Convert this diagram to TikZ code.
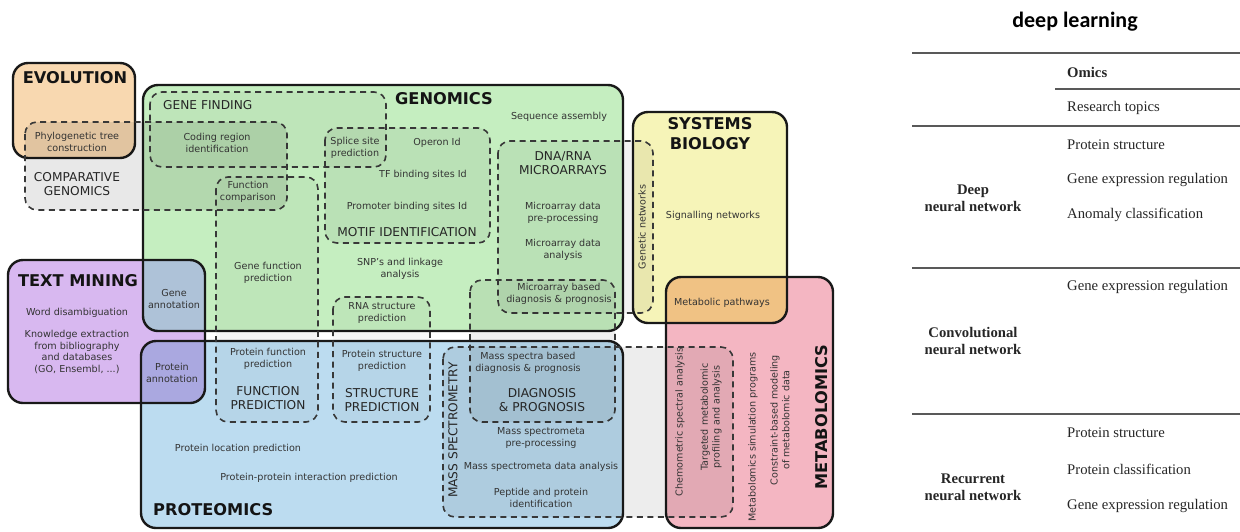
\documentclass[tikz,border=0pt]{standalone}
\usepackage{fontspec}
\setmainfont{DejaVu Sans}
\newfontfamily\tabfont{Liberation Serif}
\newfontfamily\headfont{Carlito}
\definecolor{evoC}{HTML}{F8D8B0}
\definecolor{genC}{HTML}{C5EEC0}
\definecolor{sysC}{HTML}{F6F4B8}
\definecolor{txtC}{HTML}{D8B8F0}
\definecolor{proC}{HTML}{BCDCF0}
\definecolor{metC}{HTML}{F4B6C2}
\definecolor{geneAnnC}{HTML}{AEC2D8}
\definecolor{protAnnC}{HTML}{AAA8E0}
\definecolor{metPathC}{HTML}{F0C284}
\begin{document}
\begin{tikzpicture}[x=1pt,y=-1pt,
  solidbox/.style={draw=black!90, line width=2.4pt, rounded corners=15pt},
  dashbox/.style={draw=black!78, line width=1.6pt, dash pattern=on 6pt off 4.5pt,
    rounded corners=12pt, fill=black, fill opacity=#1},
  dashbox/.default=0.05,
  lbl/.style={font=\fontsize{9.6}{11.8}\selectfont, text=black!80, align=center, inner sep=0pt},
  sub/.style={font=\fontsize{12.2}{14.5}\selectfont, text=black!85, align=center, inner sep=0pt},
  ttl/.style={font=\fontsize{16.2}{20}\selectfont\bfseries, text=black!92, align=center, inner sep=0pt},
  cell/.style={font=\tabfont\fontsize{14.7}{17}\selectfont, anchor=west, inner sep=0pt, text=black!85},
  rowhead/.style={font=\tabfont\bfseries\fontsize{14.7}{17}\selectfont, align=center, inner sep=0pt, text=black!85},
  rule/.style={draw=black!65, line width=1.3pt}]
\useasboundingbox (0,0) rectangle (1240,531);

% ---------- fields: fills ----------
\def\evo{(13,63) rectangle (135,158)}
\def\gen{(143,85) rectangle (623,331)}
\def\sys{(633,112) rectangle (787,323)}
\def\txt{(8,260) rectangle (205,403)}
\def\pro{(141,341) rectangle (623,528)}
\def\met{(666,277) rectangle (833,528)}

\fill[evoC, rounded corners=15pt] \evo;
\fill[genC, rounded corners=15pt] \gen;
\fill[sysC, rounded corners=15pt] \sys;
\fill[txtC, rounded corners=15pt] \txt;
\fill[proC, rounded corners=15pt] \pro;
\fill[metC, rounded corners=15pt] \met;

% overlaps of the fields
\begin{scope}
  \clip[rounded corners=15pt] \txt; \clip[rounded corners=15pt] \gen;
  \fill[geneAnnC] (0,0) rectangle (900,531);
\end{scope}
\begin{scope}
  \clip[rounded corners=15pt] \txt; \clip[rounded corners=15pt] \pro;
  \fill[protAnnC] (0,0) rectangle (900,531);
\end{scope}
\begin{scope}
  \clip[rounded corners=15pt] \sys; \clip[rounded corners=15pt] \met;
  \fill[metPathC] (0,0) rectangle (900,531);
\end{scope}

% ---------- fields: outlines ----------
\draw[solidbox] \evo;
\draw[solidbox] \gen;
\draw[solidbox] \sys;
\draw[solidbox] \txt;
\draw[solidbox] \pro;
\draw[solidbox] \met;

% ---------- sub-topics (dashed) ----------
\path[dashbox=0.09] (25,122) rectangle (287,210);   % comparative genomics
\path[dashbox=0.035] (150,92) rectangle (386,167);  % gene finding
\path[dashbox=0.03] (216,177) rectangle (318,422);  % function prediction
\path[dashbox=0.05] (325,128) rectangle (490,243);  % motif identification
\path[dashbox=0.03] (333,297) rectangle (430,422);  % structure prediction
\path[dashbox=0.05] (498,141) rectangle (653,313);  % DNA/RNA microarrays
\path[dashbox=0.06] (470,280) rectangle (615,422);  % diagnosis & prognosis
\path[dashbox=0.07] (443,347) rectangle (733,517);  % mass spectrometry

% ---------- titles ----------
\node[ttl] (tEvo) at (75,78) {EVOLUTION};
\node[ttl] (tGen) at (444,99) {GENOMICS};
\node[ttl] (tSys) at (710,134) {SYSTEMS\\BIOLOGY};
\node[ttl] (tTxt) at (78,281) {TEXT MINING};
\node[ttl, anchor=west] (tPro) at (153,510) {PROTEOMICS};
\node[ttl, rotate=90] (tMet) at (822,417) {METABOLOMICS};

% ---------- sub-topic titles ----------
\node[sub] (sComp) at (77,184) {COMPARATIVE\\GENOMICS};
\node[sub, anchor=west] (sGF) at (163,105) {GENE FINDING};
\node[sub] (sMotif) at (407,232) {MOTIF IDENTIFICATION};
\node[sub] (sMicro) at (563,163) {DNA/RNA\\MICROARRAYS};
\node[sub] (sFunc) at (268,398) {FUNCTION\\PREDICTION};
\node[sub] (sStruct) at (382,400) {STRUCTURE\\PREDICTION};
\node[sub] (sDiag) at (542,400) {DIAGNOSIS\\\& PROGNOSIS};
\node[sub, rotate=90] (sMass) at (453,430) {MASS SPECTROMETRY};

% ---------- research topics ----------
\node[lbl] (lPhylo) at (77,142) {Phylogenetic tree\\construction};
\node[lbl] (lCoding) at (217,143) {Coding region\\identification};
\node[lbl] (lFcomp) at (248,192) {Function\\comparison};
\node[lbl] (lSeq) at (559,117) {Sequence assembly};
\node[lbl] (lSplice) at (355,148) {Splice site\\prediction};
\node[lbl] (lOperon) at (437,143) {Operon Id};
\node[lbl] (lTF) at (423,175) {TF binding sites Id};
\node[lbl] (lProm) at (407,207) {Promoter binding sites Id};
\node[lbl] (lMpre) at (563,213) {Microarray data\\pre-processing};
\node[lbl] (lMana) at (563,250) {Microarray data\\analysis};
\node[lbl] (lGfun) at (268,273) {Gene function\\prediction};
\node[lbl] (lSNP) at (400,269) {SNP's and linkage\\analysis};
\node[lbl] (lRNA) at (382,313) {RNA structure\\prediction};
\node[lbl] (lMdiag) at (559,294) {Microarray based\\diagnosis \& prognosis};
\node[lbl, rotate=90] (lGnet) at (642,227) {Genetic networks};
\node[lbl] (lSig) at (713,216) {Signalling networks};
\node[lbl] (lMpath) at (722,303) {Metabolic pathways};
\node[lbl] (lWord) at (77,313) {Word disambiguation};
\node[lbl] (lKnow) at (77,352) {Knowledge extraction\\from bibliography\\and databases\\(GO, Ensembl, ...)};
\node[lbl] (lGann) at (174,299) {Gene\\annotation};
\node[lbl] (lPann) at (172,373) {Protein\\annotation};
\node[lbl] (lPfun) at (268,359) {Protein function\\prediction};
\node[lbl] (lPstr) at (382,361) {Protein structure\\prediction};
\node[lbl] (lMSdiag) at (528,363) {Mass spectra based\\diagnosis \& prognosis};
\node[lbl] (lMSpre) at (541,438) {Mass spectrometa\\pre-processing};
\node[lbl] (lMSana) at (541,467) {Mass spectrometa data analysis};
\node[lbl] (lPep) at (541,498) {Peptide and protein\\identification};
\node[lbl] (lPloc) at (238,449) {Protein location prediction};
\node[lbl] (lPPI) at (309,478) {Protein-protein interaction prediction};
\node[lbl, rotate=90] (lChem) at (680,422) {Chemometric spectral analysis};
\node[lbl, rotate=90] (lTarg) at (711,417) {Targeted metabolomic\\profiling and analysis};
\node[lbl, rotate=90] (lSim) at (753,437) {Metabolomics simulation programs};
\node[lbl, rotate=90] (lCons) at (780,420) {Constraint-based modeling\\of metabolomic data};

% ---------- table: deep learning ----------
\node[font=\headfont\bfseries\fontsize{22}{26}\selectfont, inner sep=0pt] (dl) at (1075,22) {deep learning};

\draw[rule] (912,53) -- (1240,53);
\draw[rule] (1055,89) -- (1240,89);
\draw[rule] (912,126) -- (1240,126);
\draw[rule] (912,268) -- (1240,268);
\draw[rule] (912,414) -- (1240,414);

\node[cell, font=\tabfont\bfseries\fontsize{14.7}{17}\selectfont] (cOmics) at (1067,72) {Omics};
\node[cell] (cTopics) at (1067,108) {Research topics};

\node[rowhead] (hDNN) at (973,198) {Deep\\neural network};
\node[cell] (d1) at (1067,145) {Protein structure};
\node[cell] (d2) at (1067,180) {Gene expression regulation};
\node[cell] (d3) at (1067,215) {Anomaly classification};

\node[rowhead] (hCNN) at (973,341) {Convolutional\\neural network};
\node[cell] (c1) at (1067,287) {Gene expression regulation};

\node[rowhead] (hRNN) at (973,487) {Recurrent\\neural network};
\node[cell] (r1) at (1067,433) {Protein structure};
\node[cell] (r2) at (1067,469) {Protein classification};
\node[cell] (r3) at (1067,506) {Gene expression regulation};
\end{tikzpicture}
\end{document}
